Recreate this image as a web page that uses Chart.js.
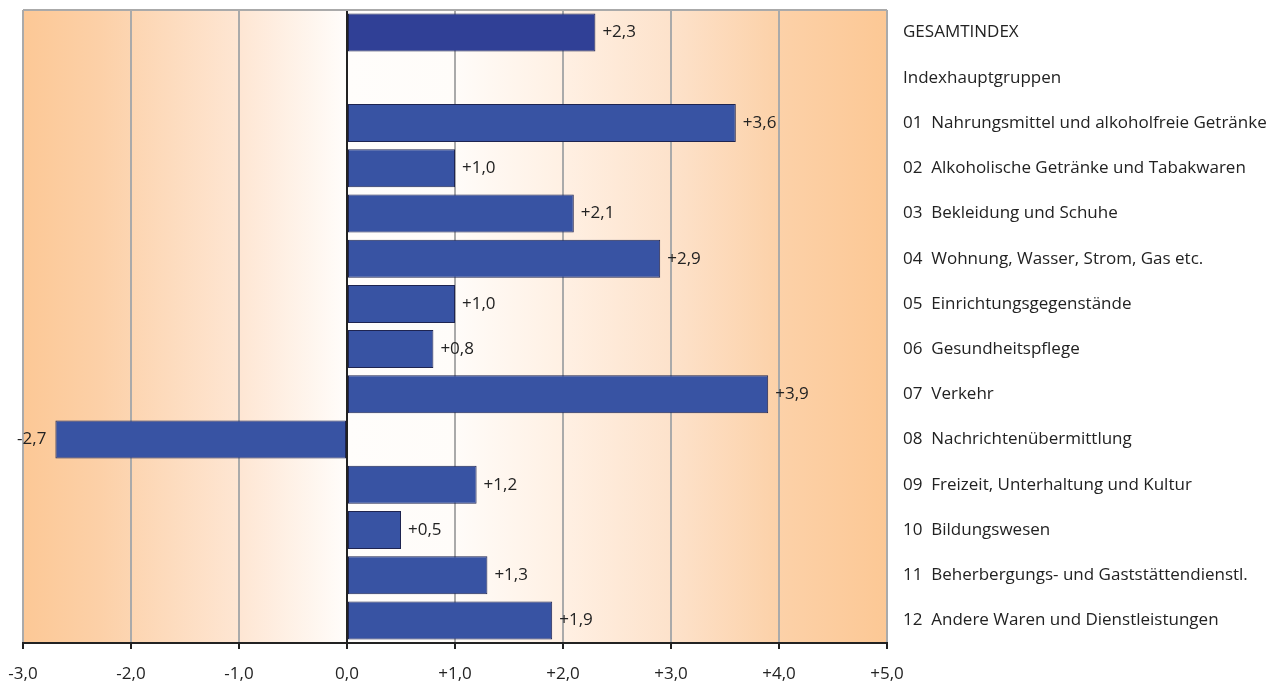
<!DOCTYPE html>
<html>
<head>
<meta charset="utf-8">
<script src="https://cdn.jsdelivr.net/npm/chart.js@4"></script>
<style>
  html, body { margin: 0; padding: 0; background: #fff; }
  #wrap { width: 1287px; height: 684px; }
</style>
</head>
<body>
<div id="wrap"><canvas id="mainChart" width="1287" height="684"></canvas></div>
<script>
const CATEGORIES = [
    'GESAMTINDEX',
    'Indexhauptgruppen',
    '01  Nahrungsmittel und alkoholfreie Getränke',
    '02  Alkoholische Getränke und Tabakwaren',
    '03  Bekleidung und Schuhe',
    '04  Wohnung, Wasser, Strom, Gas etc.',
    '05  Einrichtungsgegenstände',
    '06  Gesundheitspflege',
    '07  Verkehr',
    '08  Nachrichtenübermittlung',
    '09  Freizeit, Unterhaltung und Kultur',
    '10  Bildungswesen',
    '11  Beherbergungs- und Gaststättendienstl.',
    '12  Andere Waren und Dienstleistungen'
];
const VALUES = [2.3, null, 3.6, 1.0, 2.1, 2.9, 1.0, 0.8, 3.9, -2.7, 1.2, 0.5, 1.3, 1.9];
const X_MIN = -3, X_MAX = 5;

const FONT = '"Open Sans", "Noto Sans", sans-serif';
const FSIZE = 17;

function fmt(v) {
    let s = Math.abs(v).toFixed(1).replace('.', ',');
    if (v > 0) return '+' + s;
    if (v < 0) return '-' + s;
    return s;
}

// orange -> white -> orange background behind the bars
const bgPlugin = {
    id: 'bg',
    beforeDraw(chart) {
        const { ctx, chartArea: a, scales: { x } } = chart;
        const x0 = x.getPixelForValue(X_MIN), x1 = x.getPixelForValue(X_MAX);
        const g = ctx.createLinearGradient(x0, 0, x1, 0);
        const stop = v => (v - X_MIN) / (X_MAX - X_MIN);
        g.addColorStop(stop(-3), '#fcc896');
        g.addColorStop(stop(-2.3), '#fcd0a7');
        g.addColorStop(stop(-1), '#fee6d3');
        g.addColorStop(stop(0), '#fffdfb');
        g.addColorStop(stop(1), '#fffcf9');
        g.addColorStop(stop(2), '#fff0e3');
        g.addColorStop(stop(3), '#fde2cb');
        g.addColorStop(stop(4), '#fcd1a8');
        g.addColorStop(stop(5), '#fcc895');
        ctx.save();
        ctx.fillStyle = g;
        ctx.fillRect(a.left, a.top, a.right - a.left, a.bottom - a.top);
        ctx.restore();
    },
    afterDraw(chart) {
        const { ctx, chartArea: a } = chart;
        ctx.save();
        ctx.strokeStyle = '#aaaaaa';
        ctx.lineWidth = 2;
        ctx.beginPath();
        ctx.moveTo(a.left, a.top);
        ctx.lineTo(a.right, a.top);
        ctx.stroke();
        ctx.restore();
    }
};

const labelPlugin = {
    id: 'valueLabels',
    afterDatasetsDraw(chart) {
        const { ctx } = chart;
        const meta = chart.getDatasetMeta(0);
        ctx.save();
        ctx.font = FSIZE + 'px ' + FONT;
        ctx.fillStyle = '#222';
        ctx.textBaseline = 'middle';
        meta.data.forEach((bar, i) => {
            const v = VALUES[i];
            if (v === null) return;
            if (v >= 0) {
                ctx.textAlign = 'left';
                ctx.fillText(fmt(v), bar.x + 7, bar.y);
            } else {
                ctx.textAlign = 'right';
                ctx.fillText(fmt(v), bar.x - 9, bar.y);
            }
        });
        ctx.restore();
    }
};

new Chart(document.getElementById('mainChart').getContext('2d'), {
    type: 'bar',
    data: {
        labels: CATEGORIES,
        datasets: [{
            data: VALUES,
            backgroundColor: VALUES.map((v, i) => i === 0 ? '#304096' : '#3853a3'),
            borderColor: '#1e2450',
            borderWidth: 1,
            borderSkipped: false,
            barPercentage: 0.84,
            categoryPercentage: 1.0
        }]
    },
    options: {
        indexAxis: 'y',
        responsive: false,
        animation: false,
        layout: { padding: { left: 23, top: 10, right: 0, bottom: 0 } },
        plugins: { legend: { display: false }, tooltip: { enabled: false } },
        scales: {
            x: {
                min: X_MIN, max: X_MAX,
                ticks: {
                    stepSize: 1,
                    color: '#222',
                    font: { family: FONT, size: FSIZE },
                    padding: 15,
                    maxRotation: 0,
                    callback: v => fmt(v)
                },
                grid: {
                    color: c => c.tick && c.tick.value === 0 ? '#222' : '#aaaaaa',
                    lineWidth: 2,
                    tickColor: '#222',
                    tickLength: 6
                },
                border: { display: true, color: '#222', width: 2 },
                afterFit: s => { s.height = 41; s.paddingLeft = 0; s.paddingRight = 0; }
            },
            y: {
                position: 'right',
                ticks: {
                    color: '#222',
                    font: { family: FONT, size: FSIZE },
                    padding: 8,
                    crossAlign: 'near'
                },
                grid: { display: false },
                border: { display: false },
                afterFit: s => { s.width = 400; s.paddingTop = 0; s.paddingBottom = 0; }
            }
        }
    },
    plugins: [bgPlugin, labelPlugin]
});
</script>
</body>
</html>
